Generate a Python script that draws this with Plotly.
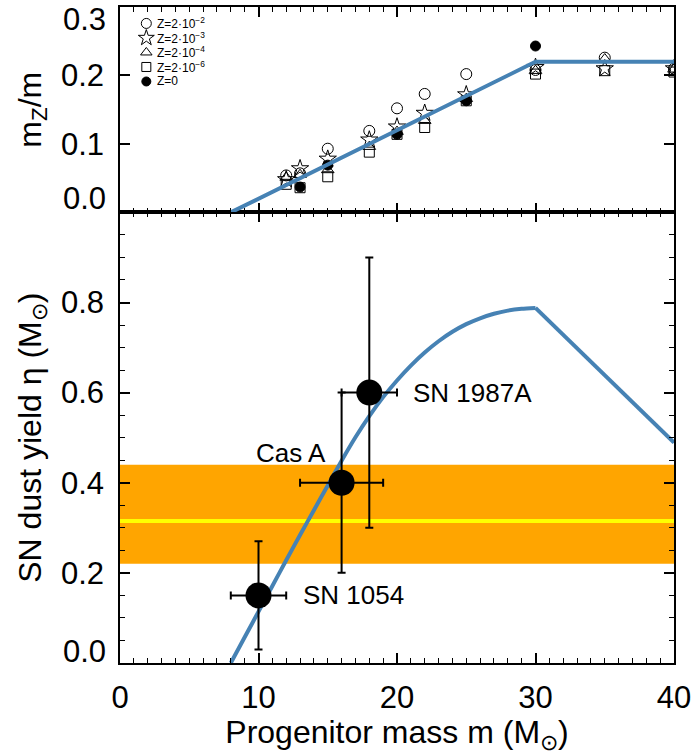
import plotly.graph_objects as go

# Progenitor masses of the stellar-yield models (Msun)
masses = [12, 13, 15, 18, 20, 22, 25, 30, 35, 40]
# Metal mass fraction m_Z/m for each initial metallicity
mz_z2e2 = [0.054, 0.057, 0.093, 0.119, 0.152, 0.173, 0.202, 0.208, 0.226, 0.210]
mz_z2e3 = [0.048, 0.064, 0.078, 0.106, 0.125, 0.145, 0.172, 0.212, 0.210, 0.210]
mz_z2e4 = [0.051, 0.055, 0.062, 0.096, 0.118, 0.134, 0.166, 0.207, 0.224, 0.209]
mz_z2e6 = [0.041, 0.036, 0.052, 0.088, 0.114, 0.124, 0.163, 0.202, 0.207, 0.205]
masses_z0 = [13, 15, 20, 25, 30]
mz_z0 = [0.037, 0.069, 0.114, 0.163, 0.243]

# Adopted metal-yield fit: rises from 8 Msun, flat above 30 Msun
fit_mass = [8, 30, 40]
fit_mz = [0.0, 0.22, 0.22]

# SN dust yield eta(m) in Msun
eta_mass_rise = [8, 9, 10, 11, 12, 13, 14, 15, 16, 17, 18, 19,
                 20, 21, 22, 23, 24, 25, 26, 27, 28, 29, 30]
eta_rise = [0.0, 0.057, 0.114, 0.171, 0.228, 0.284, 0.339, 0.394, 0.449,
            0.501, 0.548, 0.590, 0.627, 0.660, 0.689, 0.714, 0.735, 0.752,
            0.765, 0.775, 0.782, 0.786, 0.788]
eta_mass_fall = [30, 35, 40]
eta_fall = [0.788, 0.639, 0.489]

# Observed supernova remnants
sn_names = ["SN 1054", "Cas A", "SN 1987A"]
sn_mass = [10, 16, 18]
sn_mass_err = [2, 3, 2]
sn_eta = [0.15, 0.40, 0.60]
sn_eta_err = [0.12, 0.20, 0.30]

# Required dust yield range and its central value
band_lo, band_hi, band_mid = 0.22, 0.44, 0.315

x_ticks = [0, 10, 20, 30, 40]
y_ticks_top = [0.1, 0.2]
y_ticks_bottom = [0.2, 0.4, 0.6, 0.8]

legend_labels = ["Z=2·10<sup>−2</sup>", "Z=2·10<sup>−3</sup>",
                 "Z=2·10<sup>−4</sup>", "Z=2·10<sup>−6</sup>", "Z=0"]

FONT = "Liberation Sans, Arial, Helvetica, sans-serif"
BLUE = "#4682B4"
TICK_SIZE = 31
TITLE_SIZE = 32
SPLIT = 452 / 658  # boundary between the two panels (paper fraction)

fig = go.Figure()

# ---- top panel: metal yields ----
series = [
    (masses, mz_z2e2, "circle-open", 11, "black"),
    (masses, mz_z2e3, "star-open", 13, "black"),
    (masses, mz_z2e4, "triangle-up-open", 11, "black"),
    (masses, mz_z2e6, "square-open", 10, "black"),
    (masses_z0, mz_z0, "circle", 10, "black"),
]
for xs, ys, sym, size, col in series:
    fig.add_trace(go.Scatter(
        x=xs, y=ys, mode="markers", xaxis="x2", yaxis="y2",
        marker=dict(symbol=sym, size=size, color=col,
                    line=dict(color="black", width=1)),
        showlegend=False, hoverinfo="skip"))

fig.add_trace(go.Scatter(
    x=fit_mass, y=fit_mz, mode="lines", xaxis="x2", yaxis="y2",
    line=dict(color=BLUE, width=4), showlegend=False))

# symbol key in the upper-left corner of the top panel
key_x, key_y0, key_dy = 1.9, 0.276, 0.0212
for i, (xs, ys, sym, size, col) in enumerate(series):
    ky = key_y0 - i * key_dy
    fig.add_trace(go.Scatter(
        x=[key_x], y=[ky], mode="markers", xaxis="x2", yaxis="y2",
        marker=dict(symbol=sym, size=size - 1, color=col,
                    line=dict(color="black", width=1)),
        showlegend=False, hoverinfo="skip"))
    fig.add_annotation(x=key_x + 0.6, y=ky, xref="x2", yref="y2",
                       text=legend_labels[i], showarrow=False,
                       xanchor="left", yanchor="middle",
                       font=dict(family=FONT, size=12, color="black"))

# ---- bottom panel: dust yields ----
fig.add_shape(type="rect", xref="x", yref="y", x0=0, x1=40,
              y0=band_lo, y1=band_hi, fillcolor="#FFA500",
              line=dict(width=0), layer="below")
fig.add_shape(type="line", xref="x", yref="y", x0=0, x1=40,
              y0=band_mid, y1=band_mid,
              line=dict(color="#FFFF00", width=4), layer="below")

fig.add_trace(go.Scatter(
    x=eta_mass_rise, y=eta_rise, mode="lines",
    line=dict(color=BLUE, width=4, shape="spline", smoothing=0.6),
    showlegend=False))
fig.add_trace(go.Scatter(
    x=eta_mass_fall, y=eta_fall, mode="lines",
    line=dict(color=BLUE, width=4), showlegend=False))

fig.add_trace(go.Scatter(
    x=sn_mass, y=sn_eta, mode="markers",
    marker=dict(size=26, color="black"),
    error_x=dict(type="data", array=sn_mass_err, color="black",
                 thickness=2, width=4),
    error_y=dict(type="data", array=sn_eta_err, color="black",
                 thickness=2, width=4),
    showlegend=False))

label_pos = {"SN 1054": (13.05, "left"), "Cas A": (15.0, "right"),
             "SN 1987A": (21.0, "left")}
label_dy = {"SN 1054": 0.0, "Cas A": 0.067, "SN 1987A": 0.0}
for name, m, e in zip(sn_names, sn_mass, sn_eta):
    lx, anchor = label_pos[name]
    fig.add_annotation(x=lx, y=e + label_dy[name], xref="x", yref="y",
                       text=name, showarrow=False, xanchor=anchor,
                       yanchor="middle",
                       font=dict(family=FONT, size=26, color="black"))

# edge tick labels sit slightly inside the panel limits
edge_labels = [("y2", 0.3, -12), ("y2", 0.0, 14), ("y", 0.0, 12)]
for yref, val, shift in edge_labels:
    fig.add_annotation(x=0, y=val, xref="paper", yref=yref,
                       text=f"{val:.1f}", showarrow=False,
                       xanchor="right", yanchor="middle",
                       xshift=-12, yshift=shift,
                       font=dict(family=FONT, size=TICK_SIZE, color="black"))

axis_common = dict(
    showline=True, linecolor="black", linewidth=1.5, mirror="allticks",
    ticks="inside", ticklen=10, tickwidth=1.5, tickcolor="black",
    showgrid=False, zeroline=False,
    tickfont=dict(family=FONT, size=TICK_SIZE, color="black"),
)
minor_common = dict(ticklen=5, tickwidth=1.2, ticks="inside",
                    tickcolor="black")

fig.update_layout(
    width=696, height=755,
    margin=dict(l=120, r=19, t=5, b=92),
    paper_bgcolor="white", plot_bgcolor="white",
    font=dict(family=FONT, color="black"),
    xaxis=dict(
        **axis_common, domain=[0, 1], anchor="y", range=[0, 40],
        tickvals=x_ticks, ticklabelstandoff=6,
        minor=dict(dtick=1, **minor_common),
        title=dict(text="Progenitor mass m (M<sub>⊙</sub>)",
                   font=dict(family=FONT, size=TITLE_SIZE, color="black"),
                   standoff=8),
    ),
    yaxis=dict(
        **axis_common, domain=[0, SPLIT], anchor="x", range=[0, 1.0],
        tickvals=y_ticks_bottom, tickformat=".1f",
        ticklabelstandoff=8,
        minor=dict(dtick=0.05, **minor_common),
        title=dict(text="SN dust yield η (M<sub>⊙</sub>)",
                   font=dict(family=FONT, size=TITLE_SIZE, color="black"),
                   standoff=10),
    ),
    xaxis2=dict(
        **axis_common, domain=[0, 1], anchor="y2", range=[0, 40],
        matches="x", tickvals=x_ticks, showticklabels=False,
        minor=dict(dtick=1, **minor_common),
    ),
    yaxis2=dict(
        **axis_common, domain=[SPLIT, 1], anchor="x2", range=[0, 0.3],
        tickvals=y_ticks_top, tickformat=".1f",
        ticklabelstandoff=8,
        title=dict(text="m<sub>Z</sub>/m",
                   font=dict(family=FONT, size=TITLE_SIZE, color="black"),
                   standoff=10),
    ),
)

fig.write_html("out.html")
